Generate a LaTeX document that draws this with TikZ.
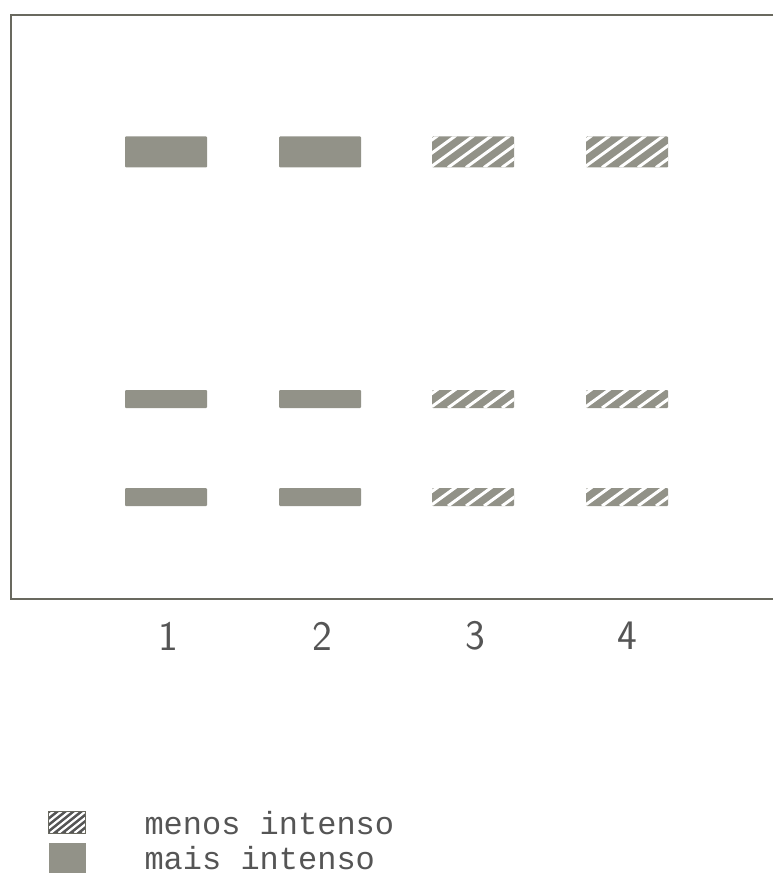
\documentclass[tikz,border=0pt]{standalone}
\usepackage{fontspec}
\newfontfamily\legendfont{Liberation Mono}
\usepackage{tikz}
\usetikzlibrary{positioning}

\definecolor{bandgray}{RGB}{146,146,136}
\definecolor{framegray}{RGB}{105,105,95}
\definecolor{inkgray}{RGB}{85,85,85}

\begin{document}
\begin{tikzpicture}[x=1pt, y=-1pt,
  band/.style={rectangle, fill=bandgray, minimum width=82pt, inner sep=0pt, rounded corners=1pt},
  wide/.style={band, minimum height=31pt},
  slim/.style={band, minimum height=18pt},
  hatched/.style={path picture={
    \foreach \k in {-38,-20,...,100}
      \draw[white, line width=3pt] ([xshift=\k pt]path picture bounding box.south west) -- ++(44pt,32pt);}},
  lane/.style={font=\sffamily\fontsize{42}{42}\selectfont, text=inkgray},
  legtext/.style={font=\legendfont\fontsize{32}{32}\selectfont, text=inkgray, anchor=west}
]
\useasboundingbox (0,0) rectangle (773,890);

% Plate outline (open on the right)
\draw[framegray, line width=2.4pt] (773,15) -- (11,15) -- (11,599) -- (773,599);

% Upper bands
\node[wide] (b11) at (166,152) {};
\node[wide] (b12) at (320,152) {};
\node[wide, hatched] (b13) at (473,152) {};
\node[wide, hatched] (b14) at (627,152) {};

% Middle bands
\node[slim] (b21) at (166,399) {};
\node[slim] (b22) at (320,399) {};
\node[slim, hatched] (b23) at (473,399) {};
\node[slim, hatched] (b24) at (627,399) {};

% Lower bands
\node[slim] (b31) at (166,497) {};
\node[slim] (b32) at (320,497) {};
\node[slim, hatched] (b33) at (473,497) {};
\node[slim, hatched] (b34) at (627,497) {};

% Lane numbers
\node[lane] (n1) at (168,636) {1};
\node[lane] (n2) at (322,636) {2};
\node[lane] (n3) at (475,636) {3};
\node[lane] (n4) at (627,636) {4};

% Legend
\node[rectangle, draw=framegray, line width=1pt, fill=inkgray, minimum width=37pt, minimum height=22pt, inner sep=0pt,
  path picture={\foreach \k in {-30,-22,...,40}
      \draw[white, line width=2.2pt] ([xshift=\k pt]path picture bounding box.south west) -- ++(30pt,24pt);}]
  (hatchkey) at (67,822) {};
\node[rectangle, fill=bandgray, minimum width=37pt, minimum height=30pt, inner sep=0pt] (solidkey) at (67,858) {};
\node[legtext] (menos) at (141,823) {menos intenso};
\node[legtext] (mais) at (141,858) {mais intenso};

\end{tikzpicture}
\end{document}
